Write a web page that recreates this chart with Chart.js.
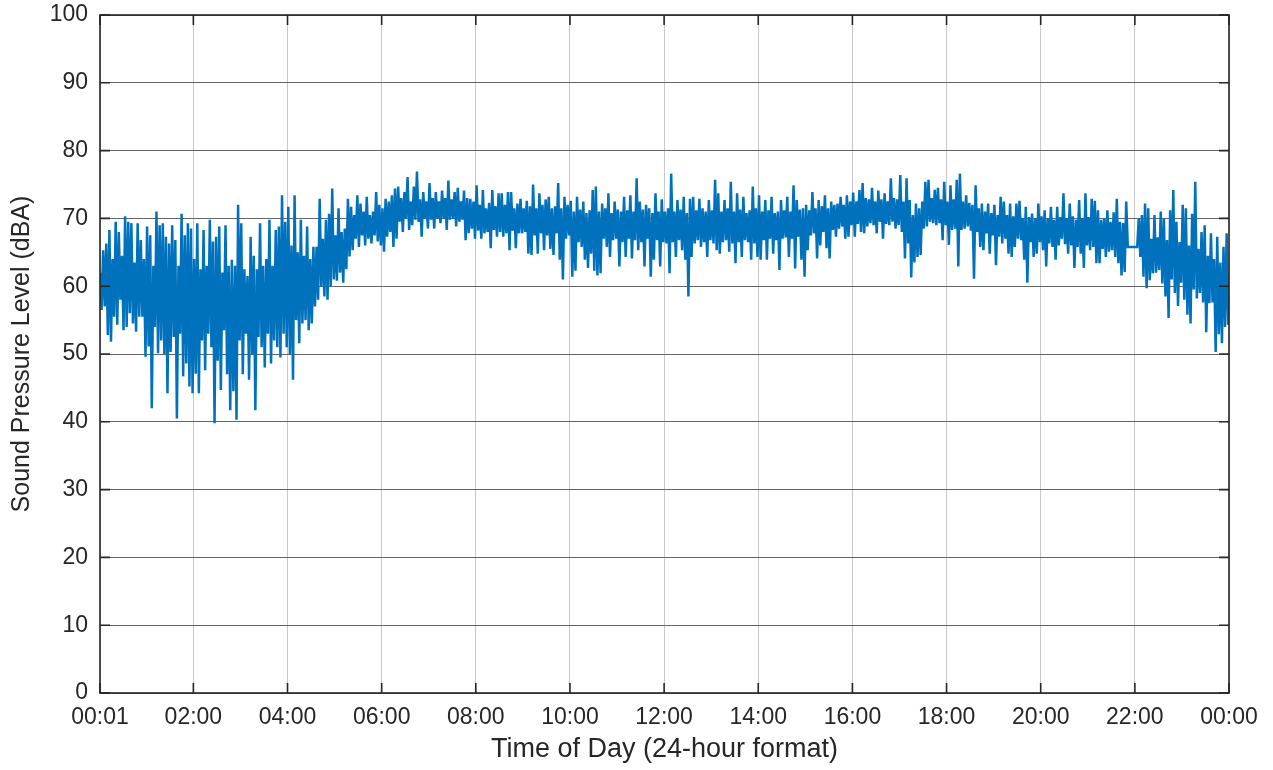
<!DOCTYPE html>
<html>
<head>
<meta charset="utf-8">
<script src="https://cdn.jsdelivr.net/npm/chart.js@4.4.1/dist/chart.umd.min.js"></script>
<style>
  html, body { margin: 0; padding: 0; background: #ffffff; }
  #wrap { width: 1273px; height: 770px; }
</style>
</head>
<body>
<div id="wrap"><canvas id="c" width="1273" height="770"></canvas></div>
<script>
// Sampling of the series (minutes after midnight)
const sampleStartMinute = 1;
const sampleStepMinutes = 2;

// Sound pressure level (dBA), one array per 2-hour block
const spl_0000_0200 = [62,56.5,65.3,57,66.3,52.8,68.3,51.8,64,55.5,69.5,54.3,68,58,64.5,53.5,70.3,54,69.5,56,69.3,54.5,63.5,53.3,69.3,55.5,66.8,55.5,64,49.6,68.8,51.1,67.5,42,63,54,71,50.1,69,52,69.3,50,67.3,44.2,66.3,50.3,69,52.5,66.8,40.5,63,53,70.7,46.7,67.5,48.6,69.3,45.2,68.5,44.2];
const spl_0200_0400 = [64,47.1,69.3,44.2,62.5,52,68.3,47.6,63,53,69.8,51,66.6,39.8,67.3,49,68.8,44.7,62,53.5,69,47,63,41.7,63.9,44.5,63,40.3,72,52,69.3,47,62.5,53,61.5,46.2,67.3,50,64.5,41.7,62.5,52.5,69.3,51,63,48,64,53,69.8,48.6,63,52,68.3,51,68.8,49.5,73.4,53,69.5,51];
const spl_0400_0600 = [71.7,50,66,46.2,73.4,55,65,51.6,69.8,54.5,64.5,55,68.8,53.5,64,54.5,65.8,57,65.8,58,72.9,60,67,58.5,69.8,58,70.7,60,74.4,61,67.5,60.8,71.5,62,68,60.5,68.5,62.5,72.9,64.4,71.7,65.3,70.5,67,73.4,65.8,72.2,67.5,71,66,73.2,67,70.5,66.3,71,67.5,73.9,66.6,72,66];
const spl_0600_0800 = [71.5,65.1,72.9,67.3,72.5,68,73.4,65.8,74.4,67,74.7,69.5,73,68,73.9,70,76.1,68.3,72.5,69,74.7,69.8,76.9,69.5,72.8,67.3,73.9,70,72.5,68.5,75.2,69.8,73,68.5,73.9,70,72.5,69.3,74.1,70,73,68.3,75.6,69.8,72.8,70,73.9,68.8,74.5,69.5,72.5,69.8,74.1,66.8,73,67.8,72.9,68.5,72.5,67];
const spl_0800_1000 = [74.9,68.2,72,67,74.2,67.8,71.5,68,72.3,65.6,74.2,68.3,71.8,67.3,73.7,68,73.7,67.3,72,67.8,73.9,65.3,73.9,68.2,71.5,65.6,72.2,67.8,72.9,67.8,71.5,68,72.6,64.8,71.8,64.6,75,67.5,71.5,64.8,73.7,67.8,72,65.3,72.8,67.5,73.2,65.5,71.5,64.6,71.8,67.8,75.2,63.9,71.5,61,73.2,67,72,67.5];
const spl_1000_1200 = [72.6,61.4,71,62.3,73.2,66.5,71.3,65.8,72.5,63.9,70.8,62.7,71.2,64.8,74.2,62.3,74.7,61.6,71,61.9,72.2,67,71.5,65.8,73.7,64.3,70.8,66.8,72.5,67,71.3,62.9,71,66.5,73.2,64.3,71.2,67,73.4,64.1,71,66.8,75.9,65.3,72.5,66.5,71.3,62.9,72,67,71.5,61.4,70.8,63.9,73.7,66.8,71,62.9,72.8,66.5];
const spl_1200_1400 = [71,66.3,71.5,61.9,76.6,66.5,71,64.3,72.7,66.8,71.3,65.3,73.2,63.9,70.8,58.5,72.9,64.3,73.2,66.3,71.2,66.8,72.9,65.8,71.5,66.5,71,64.3,72.7,66.8,71.2,66.3,75.7,65.3,73.7,64.8,71,66.5,72.7,66.8,71.5,65.1,75.4,66.3,71,63.4,73.7,66.5,71.3,64.3,73.2,66.8,70.8,66.5,71.2,63.9,74.7,66.3,71.5,64.3];
const spl_1400_1600 = [73.4,63.9,71,66.8,72.7,63.9,71.2,67,73.2,64.8,70.8,66.8,71,62.4,72.7,67,71.2,67.2,73.2,64.3,71,67,74.9,62.6,72.7,67.3,71.3,63.9,71.5,61.4,72,65.3,71.2,67.5,73.9,67.8,71.5,64.1,72.7,66,71.8,68,73.4,65.6,71.5,64.1,72.5,68.3,72,67.3,72.2,68.5,73.2,68.8,72,67,73.4,67.3,72.5,69];
const spl_1600_1800 = [73.8,67.3,72.5,69.2,74.2,68,75.2,67.8,73,68.8,72.8,69.3,74.5,69,72.5,67.8,74.1,69.5,72.8,67,73.7,69.2,72.5,69,75.9,69.5,73,68.5,72.8,69,76.4,68,72.5,64.1,75.9,66.3,72.7,61.3,70.5,63.5,72.2,64.3,71.5,64.6,72.5,68.5,75.4,68.8,75.7,69.5,73,69.3,74.2,69,74.5,69.3,72.8,66.8,75.4,69];
const spl_1800_2000 = [72.5,66.1,74.9,68.3,72.8,68.5,75.7,62.9,76.6,68.3,72.5,68.5,73.4,68.8,72.3,68.2,72,61.1,74.9,68,71.5,65.8,72.2,65.3,71,67.8,72.2,64.8,70.8,67.5,72,63.1,70.5,67.3,73.2,66.3,72.5,67,70.5,64.8,72.2,64.3,70.3,65.8,72.2,67,72.6,66.8,70,63.9,71.7,60.5,70.2,66.5,70.7,64.3,70,64.8,72.2,66.5];
const spl_2000_2200 = [70.3,65.3,71.2,62.9,70,66.3,71.7,65.8,69.8,63.9,71.7,66,70.2,67,73.7,66.2,70,64.8,72.2,66,70.3,62.7,69.8,65.8,72.7,64.8,70,62.7,73.7,66,70.2,65.3,72.9,65.8,72.6,63.4,71.2,63.4,69.8,65.5,70,64.3,71.2,65.1,69.5,65.3,70.9,64.3,72.9,63.4,69.5,61.6,69.3,62.1,72.5,65.8,65.8,65.8,65.8,65.8];
const spl_2200_2400 = [65.8,65.8,70,64.3,70.5,61.4,72.2,59.7,71.5,60.9,67,61.9,70.5,62,67.2,62.4,71,60.4,70,58.5,66.8,55.3,71.2,61,74.2,59,69.5,57.1,66.5,60.5,72,58,71.5,55.8,66,54.5,70.7,59.5,75.4,58.2,65.5,59,68,57.6,69,53.2,64.5,57.5,67.8,57.6,64,50.3,67.3,52.9,63.5,51.6,65.8,54,67.8,54.3];

// Axis ticks
const xTickMinutes = [1,120,240,360,480,600,720,840,960,1080,1200,1320,1440];
const xTickLabels = ["00:01","02:00","04:00","06:00","08:00","10:00","12:00","14:00","16:00","18:00","20:00","22:00","00:00"];
const yMin = 0, yMax = 100, yStep = 10;

const xTitle = "Time of Day (24-hour format)";
const yTitle = "Sound Pressure Level (dBA)";

const allValues = [].concat(spl_0000_0200, spl_0200_0400, spl_0400_0600, spl_0600_0800,
  spl_0800_1000, spl_1000_1200, spl_1200_1400, spl_1400_1600, spl_1600_1800,
  spl_1800_2000, spl_2000_2200, spl_2200_2400);
const points = allValues.map((v, i) => ({ x: sampleStartMinute + i * sampleStepMinutes, y: v }));

const FONT = "'Liberation Sans', Arial, Helvetica, sans-serif";
const AXIS_COLOR = '#262626';

const boxPlugin = {
  id: 'boxTicks',
  afterDraw(chart) {
    const { ctx, chartArea: a, scales: { x, y } } = chart;
    ctx.save();
    ctx.strokeStyle = AXIS_COLOR;
    ctx.lineWidth = 1.6;
    ctx.strokeRect(a.left, a.top, a.right - a.left, a.bottom - a.top);
    const L = 10;
    ctx.beginPath();
    y.ticks.forEach(t => {
      const py = y.getPixelForValue(t.value);
      ctx.moveTo(a.left, py); ctx.lineTo(a.left + L, py);
      ctx.moveTo(a.right, py); ctx.lineTo(a.right - L, py);
    });
    x.ticks.forEach(t => {
      const px = x.getPixelForValue(t.value);
      ctx.moveTo(px, a.bottom); ctx.lineTo(px, a.bottom - L);
      ctx.moveTo(px, a.top); ctx.lineTo(px, a.top + L);
    });
    ctx.stroke();
    ctx.restore();
  }
};

new Chart(document.getElementById('c'), {
  type: 'line',
  data: {
    datasets: [{
      label: 'SPL',
      data: points,
      borderColor: '#0072BD',
      borderWidth: 2.5,
      pointRadius: 0,
      tension: 0,
      fill: false
    }]
  },
  options: {
    responsive: false,
    animation: false,
    parsing: false,
    layout: { padding: { top: 15, right: 44, bottom: 0, left: 0 } },
    plugins: { legend: { display: false }, tooltip: { enabled: false } },
    scales: {
      x: {
        type: 'linear',
        min: 1,
        max: 1440,
        afterBuildTicks: (s) => { s.ticks = xTickMinutes.map(v => ({ value: v })); },
        afterFit: (s) => { s.height = 77; s.paddingLeft = 0; s.paddingRight = 0; },
        border: { display: false },
        grid: { color: 'rgba(165,165,165,0.6)', lineWidth: 1, borderDash: [2, 2], drawTicks: false },
        ticks: {
          autoSkip: false, maxRotation: 0, minRotation: 0, padding: 11,
          color: AXIS_COLOR, font: { family: FONT, size: 23 },
          callback: (v, i) => xTickLabels[i]
        },
        title: {
          display: true, text: xTitle, color: AXIS_COLOR,
          font: { family: FONT, size: 27 }, padding: { top: 0, bottom: 4 }
        }
      },
      y: {
        min: yMin,
        max: yMax,
        afterFit: (s) => { s.width = 100; s.paddingTop = 0; s.paddingBottom = 0; },
        border: { display: false },
        grid: { color: 'rgba(50,50,50,0.75)', lineWidth: 1, borderDash: [2, 3], drawTicks: false },
        ticks: {
          stepSize: yStep, padding: 12,
          color: AXIS_COLOR, font: { family: FONT, size: 23 }
        },
        title: {
          display: true, text: yTitle, color: AXIS_COLOR,
          font: { family: FONT, size: 25 }, padding: { top: 7, bottom: 0 }
        }
      }
    }
  },
  plugins: [boxPlugin]
});
</script>
</body>
</html>
